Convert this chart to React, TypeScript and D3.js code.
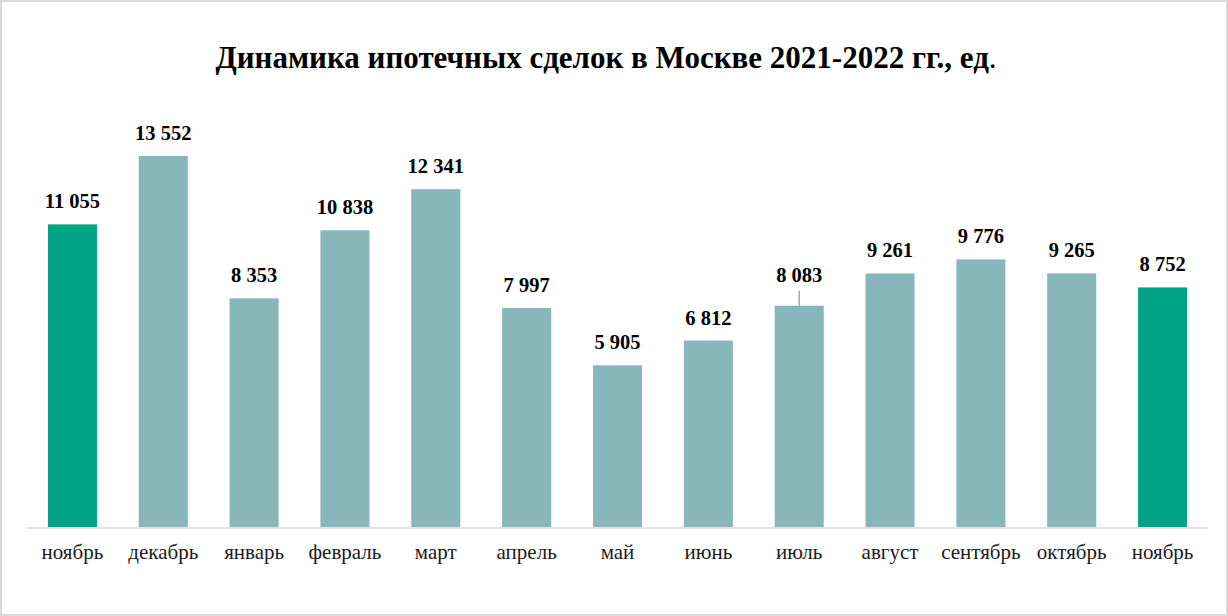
import { useEffect, useRef } from "react";
import * as d3 from "d3";

const months = [
  "ноябрь", "декабрь", "январь", "февраль", "март", "апрель", "май",
  "июнь", "июль", "август", "сентябрь", "октябрь", "ноябрь",
];
const deals = [11055, 13552, 8353, 10838, 12341, 7997, 5905, 6812, 8083, 9261, 9776, 9265, 8752];
const highlighted = [0, 12];

const W = 1228;
const H = 616;
const serif = "'Liberation Serif', 'Times New Roman', serif";

export default function App() {
  const svgRef = useRef<SVGSVGElement>(null);

  useEffect(() => {
    document.body.style.margin = "0";
    if (!svgRef.current) return;
    const svg = d3.select(svgRef.current);
    svg.selectAll("*").remove();

    const margin = { top: 89, right: 20, bottom: 89, left: 27 };
    const baseY = H - margin.bottom;

    svg
      .append("rect")
      .attr("x", 1)
      .attr("y", 1)
      .attr("width", W - 2)
      .attr("height", H - 2)
      .attr("fill", "#fff")
      .attr("stroke", "#d9d9d9")
      .attr("stroke-width", 2);

    const title = svg
      .append("text")
      .attr("x", 606)
      .attr("y", 68)
      .attr("text-anchor", "middle")
      .style("font-family", serif)
      .style("font-size", "31px")
      .attr("fill", "#000");
    title
      .append("tspan")
      .style("font-weight", "bold")
      .text("Динамика ипотечных сделок в Москве 2021-2022 гг., ед");
    title.append("tspan").text(".");

    const x = d3
      .scaleBand<number>()
      .domain(d3.range(months.length))
      .range([margin.left, 1208])
      .paddingInner(0.46)
      .paddingOuter(0.23);

    const y = d3.scaleLinear().domain([0, 16000]).range([baseY, margin.top]);

    // axis line
    svg
      .append("line")
      .attr("x1", margin.left)
      .attr("x2", 1208)
      .attr("y1", baseY + 1)
      .attr("y2", baseY + 1)
      .attr("stroke", "#d9d9d9")
      .attr("stroke-width", 1.5);

    svg
      .append("g")
      .selectAll("rect")
      .data(deals)
      .enter()
      .append("rect")
      .attr("x", (_, i) => x(i)!)
      .attr("width", x.bandwidth())
      .attr("y", (d) => y(d))
      .attr("height", (d) => baseY - y(d))
      .attr("fill", (_, i) => (highlighted.includes(i) ? "#00a386" : "#87b6bb"));

    const fmt = (v: number) => d3.format(",")(v).replace(/,/g, " ");

    // value labels; the July label sits a bit higher with a leader line
    const lifted = 8;
    svg
      .append("g")
      .selectAll("text")
      .data(deals)
      .enter()
      .append("text")
      .attr("x", (_, i) => x(i)! + x.bandwidth() / 2)
      .attr("y", (d, i) => y(d) - 16 - (i === 8 ? lifted : 0))
      .attr("text-anchor", "middle")
      .style("font-family", serif)
      .style("font-weight", "bold")
      .style("font-size", "20.5px")
      .attr("fill", "#000")
      .text((d) => fmt(d));

    svg
      .append("line")
      .attr("x1", x(8)! + x.bandwidth() / 2)
      .attr("x2", x(8)! + x.bandwidth() / 2)
      .attr("y1", y(deals[8]) - 15)
      .attr("y2", y(deals[8]))
      .attr("stroke", "#a6a6a6")
      .attr("stroke-width", 1.5);

    svg
      .append("g")
      .selectAll("text")
      .data(months)
      .enter()
      .append("text")
      .attr("x", (_, i) => x(i)! + x.bandwidth() / 2)
      .attr("y", baseY + 32)
      .attr("text-anchor", "middle")
      .style("font-family", serif)
      .style("font-size", "21px")
      .attr("fill", "#1a1a1a")
      .text((d) => d);
  }, []);

  return <svg ref={svgRef} width={W} height={H} style={{ display: "block" }}></svg>;
}
